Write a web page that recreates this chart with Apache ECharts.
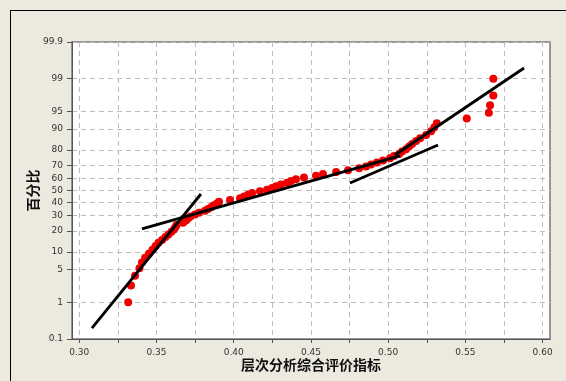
<!DOCTYPE html>
<html>
<head>
<meta charset="utf-8">
<script src="https://cdn.jsdelivr.net/npm/echarts@6/dist/echarts.min.js"></script>
<style>html,body{margin:0;padding:0;background:#ECE9DF;}#c{width:566px;height:381px;}</style>
</head>
<body>
<div id="c"></div>
<script>
// ---- data ----
var xValues = [0.3317,0.3335,0.3361,0.3390,0.3406,0.3426,0.3452,0.3474,0.3494,0.3513,
  0.3536,0.3558,0.3578,0.3597,0.3613,0.3623,0.3630,0.3672,0.3691,0.3704,
  0.3720,0.3749,0.3775,0.3814,0.3834,0.3856,0.3872,0.3892,0.3905,0.3976,
  0.4041,0.4067,0.4093,0.4119,0.4170,0.4216,0.4248,0.4274,0.4306,0.4345,
  0.4371,0.4403,0.4455,0.4533,0.4578,0.4663,0.4740,0.4812,0.4857,0.4889,
  0.4928,0.4967,0.5012,0.5038,0.5071,0.5090,0.5116,0.5136,0.5155,0.5181,
  0.5207,0.5246,0.5278,0.5298,0.5315,0.5509,0.5652,0.5660,0.5681,0.5681];
var percentValues = [1.0,2.4,3.8,5.3,6.7,8.1,9.5,10.9,12.4,13.8,
  15.2,16.6,18.0,19.5,20.9,22.3,23.7,25.1,26.6,28.0,
  29.4,30.8,32.2,33.7,35.1,36.5,37.9,39.4,40.8,42.2,
  43.6,45.0,46.5,47.9,49.3,50.7,52.1,53.6,55.0,56.4,
  57.8,59.2,60.7,62.1,63.5,64.9,66.3,67.8,69.2,70.6,
  72.0,73.4,74.9,76.3,77.7,79.1,80.5,82.0,83.4,84.8,
  86.2,87.6,89.1,90.5,91.9,93.3,94.7,96.2,97.6,99.0];
// fitted line segments: [x, percent]
var lineA = [[0.3082, 0.21], [0.3788, 47.1]];
var lineB = [[0.3406, 21.2], [0.5076, 76.4]];
var lineC = [[0.4753, 56.2], [0.5323, 82.8]];
var lineD = [[0.5044, 77.0], [0.5880, 99.46]];
var yTickLabels = ['0.1','1','5','10','20','30','40','50','60','70','80','90','95','99','99.9'];
var xLabelValues = [0.30,0.35,0.40,0.45,0.50,0.55,0.60];
var xGridValues = [0.30,0.325,0.35,0.375,0.40,0.425,0.45,0.475,0.50,0.525,0.55,0.575,0.60];
var xTitle = '层次分析综合评价指标';
var yTitle = '百分比';

// inverse normal CDF (Acklam)
function probit(p){
  var a=[-3.969683028665376e+01,2.209460984245205e+02,-2.759285104469687e+02,1.383577518672690e+02,-3.066479806614716e+01,2.506628277459239e+00];
  var b=[-5.447609879822406e+01,1.615858368580409e+02,-1.556989798598866e+02,6.680131188771972e+01,-1.328068155288572e+01];
  var c=[-7.784894002430293e-03,-3.223964580411365e-01,-2.400758277161838e+00,-2.549732539343734e+00,4.374664141464968e+00,2.938163982698783e+00];
  var d=[7.784695709041462e-03,3.224671290700398e-01,2.445134137142996e+00,3.754408661907416e+00];
  var pl=0.02425,q,r;
  if(p<pl){q=Math.sqrt(-2*Math.log(p));return (((((c[0]*q+c[1])*q+c[2])*q+c[3])*q+c[4])*q+c[5])/((((d[0]*q+d[1])*q+d[2])*q+d[3])*q+1);}
  if(p<=1-pl){q=p-0.5;r=q*q;return (((((a[0]*r+a[1])*r+a[2])*r+a[3])*r+a[4])*r+a[5])*q/(((((b[0]*r+b[1])*r+b[2])*r+b[3])*r+b[4])*r+1);}
  q=Math.sqrt(-2*Math.log(1-p));return -(((((c[0]*q+c[1])*q+c[2])*q+c[3])*q+c[4])*q+c[5])/((((d[0]*q+d[1])*q+d[2])*q+d[3])*q+1);
}
function z(pct){return probit(pct/100);}
var yTickZ = yTickLabels.map(function(s){return z(parseFloat(s));});
var zMax = z(99.9), zMin = z(0.1);

var points = xValues.map(function(x,i){return [x, z(percentValues[i])];});
function seg(l){return l.map(function(p){return [p[0], z(p[1])];});}

var axisFont = {fontFamily:'DejaVu Sans', fontSize:9, color:'#333'};
var lineStyle = {color:'#000', width:2.8};
function lineSeries(l){
  return {type:'line', data:seg(l), symbol:'none', lineStyle:lineStyle, z:5, silent:true, animation:false};
}

var chart = echarts.init(document.getElementById('c'), null, {renderer:'canvas'});
chart.setOption({
  backgroundColor:'#ECE9DF',
  animation:false,
  grid:{left:72, top:42, right:16, bottom:42, show:true, backgroundColor:'#fff', borderColor:'#7a7a7a', borderWidth:1.5},
  xAxis:{
    type:'value', min:0.2953, max:0.6048,
    axisLine:{show:true, onZero:false, lineStyle:{color:'#555', width:1}},
    axisTick:{show:true, customValues:xGridValues, length:4, lineStyle:{color:'#555'}},
    axisLabel:Object.assign({customValues:xLabelValues, margin:9, formatter:function(v){return v.toFixed(2);}}, axisFont),
    splitLine:{show:true, lineStyle:{color:'#bdbdbd', type:[5,4], width:1}},
    name:xTitle, nameLocation:'middle', nameGap:19, nameMoveOverlap:false,
    nameTextStyle:{fontFamily:'Noto Sans CJK SC', fontSize:14, fontWeight:'bold', color:'#111'}
  },
  yAxis:{
    type:'value', min:zMin, max:zMax,
    axisLine:{show:true, onZero:false, lineStyle:{color:'#555', width:1}},
    axisTick:{show:true, customValues:yTickZ, length:5, lineStyle:{color:'#555'}},
    axisLabel:Object.assign({customValues:yTickZ, margin:9, formatter:function(v){
      var best=0; for(var i=1;i<yTickZ.length;i++){ if(Math.abs(yTickZ[i]-v)<Math.abs(yTickZ[best]-v)) best=i; }
      return yTickLabels[best];}}, axisFont),
    splitLine:{show:true, lineStyle:{color:'#bdbdbd', type:[5,4], width:1}},
    name:yTitle, nameLocation:'middle', nameGap:32, nameRotate:90, nameMoveOverlap:false,
    nameTextStyle:{fontFamily:'Noto Sans CJK SC', fontSize:14, fontWeight:'bold', color:'#111'}
  },
  graphic:[
    {type:'line', shape:{x1:10, y1:10.5, x2:566, y2:10.5}, style:{stroke:'#000', lineWidth:1}, silent:true},
    {type:'line', shape:{x1:10.5, y1:10, x2:10.5, y2:381}, style:{stroke:'#000', lineWidth:1}, silent:true}
  ],
  series:[
    {type:'scatter', data:points, symbol:'circle', symbolSize:8, itemStyle:{color:'#ee0000', opacity:1}, z:3},
    lineSeries(lineA), lineSeries(lineB), lineSeries(lineC), lineSeries(lineD)
  ]
});
</script>
</body>
</html>
